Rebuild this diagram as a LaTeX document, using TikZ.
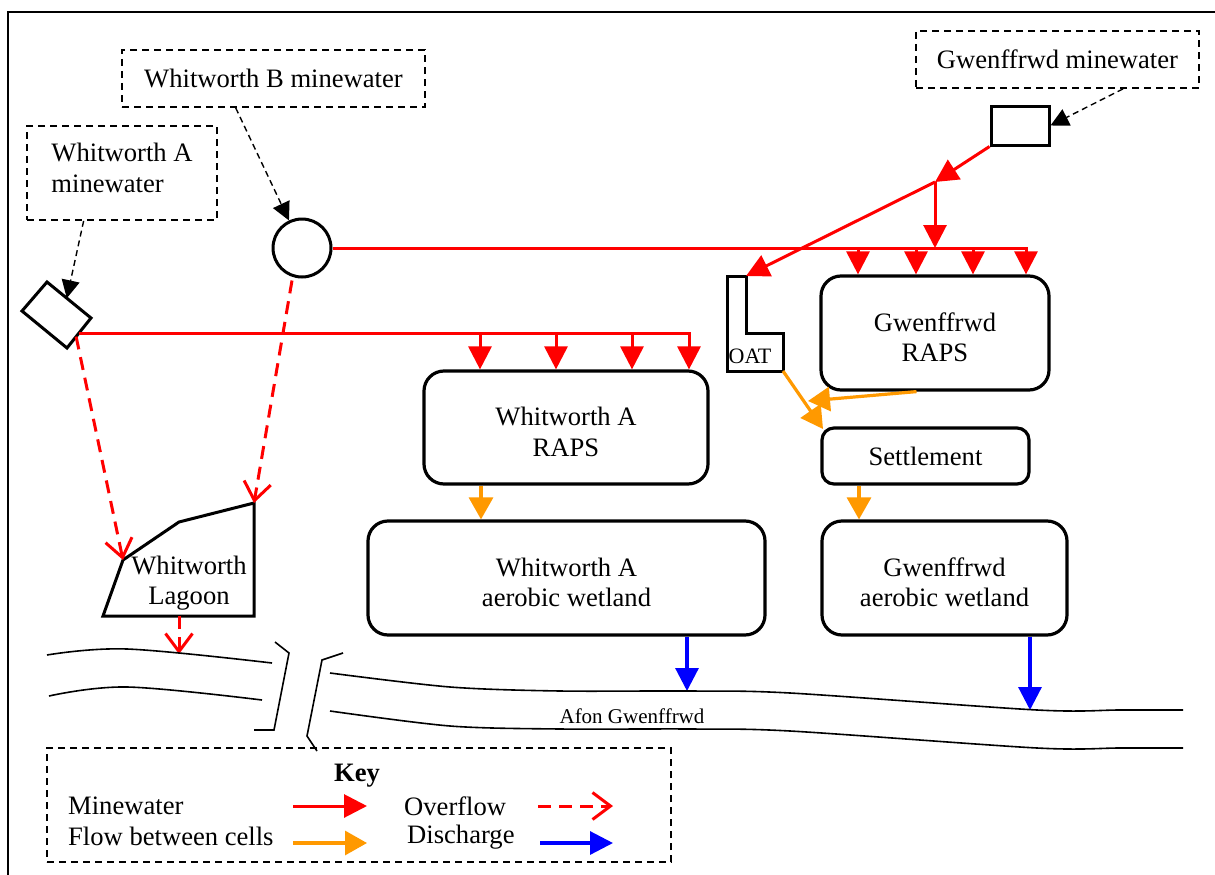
\documentclass[tikz,border=0pt]{standalone}
\usepackage{fontspec}
\setmainfont{Liberation Serif}
\usetikzlibrary{arrows.meta,calc}
\definecolor{flowor}{RGB}{255,153,0}
\definecolor{minered}{RGB}{255,0,0}
\definecolor{disblue}{RGB}{0,0,255}
\newcommand{\lowstrut}{\rule{0pt}{27pt}}
\tikzset{
  bigtext/.style={font=\fontsize{26.6}{30.6}\selectfont},
  srcbox/.style={draw, line width=1.8pt, dash pattern=on 7pt off 5pt, align=left},
  cell/.style={draw, line width=3.2pt, rounded corners=20pt, align=center},
  hightext/.style={execute at end node={\rule[-11pt]{0pt}{0pt}}},
  feed/.style={line width=1.4pt, dash pattern=on 6pt off 4pt, -{Triangle[length=18pt,width=18pt]}},
  mine/.style={color=minered, line width=3pt, -{Triangle[length=23pt,width=23pt]}},
  mineline/.style={color=minered, line width=3pt},
  over/.style={color=minered, line width=3pt, dash pattern=on 13pt off 8pt, -{Straight Barb[length=18pt,width=27pt]}},
  flowarr/.style={color=flowor, line width=3.2pt, -{Triangle[length=22pt,width=24pt]}},
  disarr/.style={color=disblue, line width=3.2pt, -{Triangle[length=23pt,width=23pt]}},
  river/.style={line width=1.6pt},
  shapeline/.style={line width=3pt}
}
\begin{document}
\begin{tikzpicture}[x=1pt,y=-1pt, every node/.style={bigtext, inner sep=0pt}]
\useasboundingbox (0,0) rectangle (1215,875);
% frame
\draw[line width=2pt] (8,875) -- (8,12) -- (1215,12);

% source boxes
\node[srcbox, minimum width=303pt, minimum height=57pt] (wbbox) at (273.5,78.5) {Whitworth B minewater};
\node[srcbox, hightext, minimum width=190pt, minimum height=94pt] (wabox) at (122,173) {Whitworth A\\minewater};
\node[srcbox, minimum width=283pt, minimum height=57pt] (gwbox) at (1057.5,59.5) {Gwenffrwd minewater};

% collection points
\node[draw, circle, line width=3pt, minimum size=58pt] (circ) at (302,248) {};
\node[draw, line width=3pt, minimum width=58pt, minimum height=39pt] (srect) at (1020,125.5) {};
\draw[shapeline] (47,282) coordinate (d1) -- (91,318) coordinate (d2) -- (67,348) coordinate (d3) -- (22,311) coordinate (d4) -- cycle;

% cells
\node[cell, minimum width=284pt, minimum height=113pt] (waraps) at (566,427.5) {\lowstrut Whitworth A\\RAPS};
\node[cell, minimum width=228pt, minimum height=114pt] (graps) at (935,333) {\lowstrut Gwenffrwd\\RAPS};
\node[cell, rounded corners=12pt, minimum width=207pt, minimum height=56pt] (settle) at (925.5,456) {Settlement};
\node[cell, minimum width=397pt, minimum height=114pt] (wawet) at (566.5,578) {\lowstrut Whitworth A\\aerobic wetland};
\node[cell, minimum width=245pt, minimum height=114pt] (gwet) at (944.5,578) {\lowstrut Gwenffrwd\\aerobic wetland};

% OAT
\draw[shapeline] (727,276) -- (746,276) coordinate (oattop) -- (746,333) -- (783,333) -- (783,371) coordinate (oatbr) -- (727,371) -- cycle;
\node[font=\fontsize{22}{24}\selectfont] (oattxt) at (750,356) {OAT};

% Lagoon
\draw[shapeline] (123,560) coordinate (lg1) -- (179,522) -- (254,503) coordinate (lg3) -- (254,616) -- (179,616) coordinate (lgb) -- (103,616) -- cycle;
\node[align=center] (lagtxt) at (189,583) {Whitworth\\Lagoon};

% feeds
\draw[feed] ($(wabox.south west)!0.3!(wabox.south east)$) -- ($(d1)!0.45!(d2)$);
\draw[feed] ($(wbbox.south west)!0.376!(wbbox.south east)$) -- (circ);
\draw[feed] ($(gwbox.south west)!0.73!(gwbox.south east)$) -- (srect.east);

% Whitworth B line to Gwenffrwd RAPS
\coordinate (gend) at (1028,248);
\draw[mineline] (circ.east) -- (gend);
\foreach \gx/\nm in {858/g1,916/g2,973/g3,1026/g4}{
  \coordinate (\nm) at (\gx,248);
  \draw[mine] (\nm) -- (\nm |- graps.north);
}
% Gwenffrwd minewater
\coordinate (junc) at (935,182);
\draw[mine] (srect.south west) -- (junc);
\draw[mine] (junc) -- (junc |- gend);
\draw[mine] (junc) -- (oattop);

% Whitworth A line
\coordinate (dstart) at ($(d2)!0.5!(d3)$);
\coordinate (wend) at (689,333);
\draw[mine] (dstart) -- (wend) -- (wend |- waraps.north);
\foreach \wx/\nm in {480/w1,556/w2,632/w3}{
  \coordinate (\nm) at (\wx,333);
  \draw[mine] (\nm) -- (\nm |- waraps.north);
}

% overflows
\draw[over] ($(d2)!0.62!(d3)$) -- (lg1);
\draw[over] ($(circ.south)+(-10,2)$) -- (lg3);
\coordinate (rivl) at (179,654);
\draw[over] (lgb) -- (rivl);

% flows between cells
\coordinate (settletl) at (823,429);
\draw[flowarr] (oatbr) -- (settletl);
\coordinate (settlein) at (808,401);
\draw[flowarr] ($(graps.south west)!0.42!(graps.south east)$) -- (settlein);
\draw[flowarr] (settle.south -| 859,0) -- (gwet.north -| 859,0);
\draw[flowarr] (waraps.south -| 481,0) -- (wawet.north -| 481,0);

% discharges
\coordinate (riv1) at (687,691);
\coordinate (riv2) at (1030,710);
\draw[disarr] (wawet.south -| riv1) -- (riv1);
\draw[disarr] (gwet.south -| riv2) -- (riv2);

% river
\draw[river] plot[smooth, tension=0.6] coordinates {(47,655) (127,649) (272,663)};
\draw[river] plot[smooth, tension=0.6] coordinates {(49,696) (127,687) (262,700)};
\draw[river] plot[smooth, tension=0.5] coordinates {(330,673) (450,687) (560,691) (690,691) (790,693) (1037,710) (1120,710) (1183,710)};
\draw[river] plot[smooth, tension=0.5] coordinates {(330,711) (450,726) (560,729) (690,729) (790,731) (1037,748) (1120,748) (1183,748)};
\draw[river] (275,642) -- (289,653) -- (274,730) -- (254,730);
\draw[river] (343,653) -- (322,660) -- (307,736) -- (317,751);
\node[font=\fontsize{21}{24}\selectfont] (rivname) at (632,716) {Afon Gwenffrwd};

% key
\node[srcbox, minimum width=624pt, minimum height=114pt] (key) at (359,805) {};
\node[font=\fontsize{26.6}{30.6}\selectfont\bfseries] (ktitle) at (357,776) {Key};
\node[anchor=west] (k1) at (68,806) {Minewater};
\node[anchor=west] (k2) at (68,836) {Flow between cells};
\node[anchor=west] (k3) at (404,806) {Overflow};
\node[anchor=west] (k4) at (407,837) {Discharge};
\coordinate (ka1) at (293,806); \coordinate (kb1) at (367,806);
\coordinate (ka2) at (293,843); \coordinate (kb2) at (367,843);
\coordinate (ka3) at (538,806); \coordinate (kb3) at (613,806);
\coordinate (ka4) at (540,843); \coordinate (kb4) at (613,843);
\draw[mine] (ka1) -- (kb1);
\draw[flowarr] (ka2) -- (kb2);
\draw[over] (ka3) -- (kb3);
\draw[disarr] (ka4) -- (kb4);
\end{tikzpicture}
\end{document}
